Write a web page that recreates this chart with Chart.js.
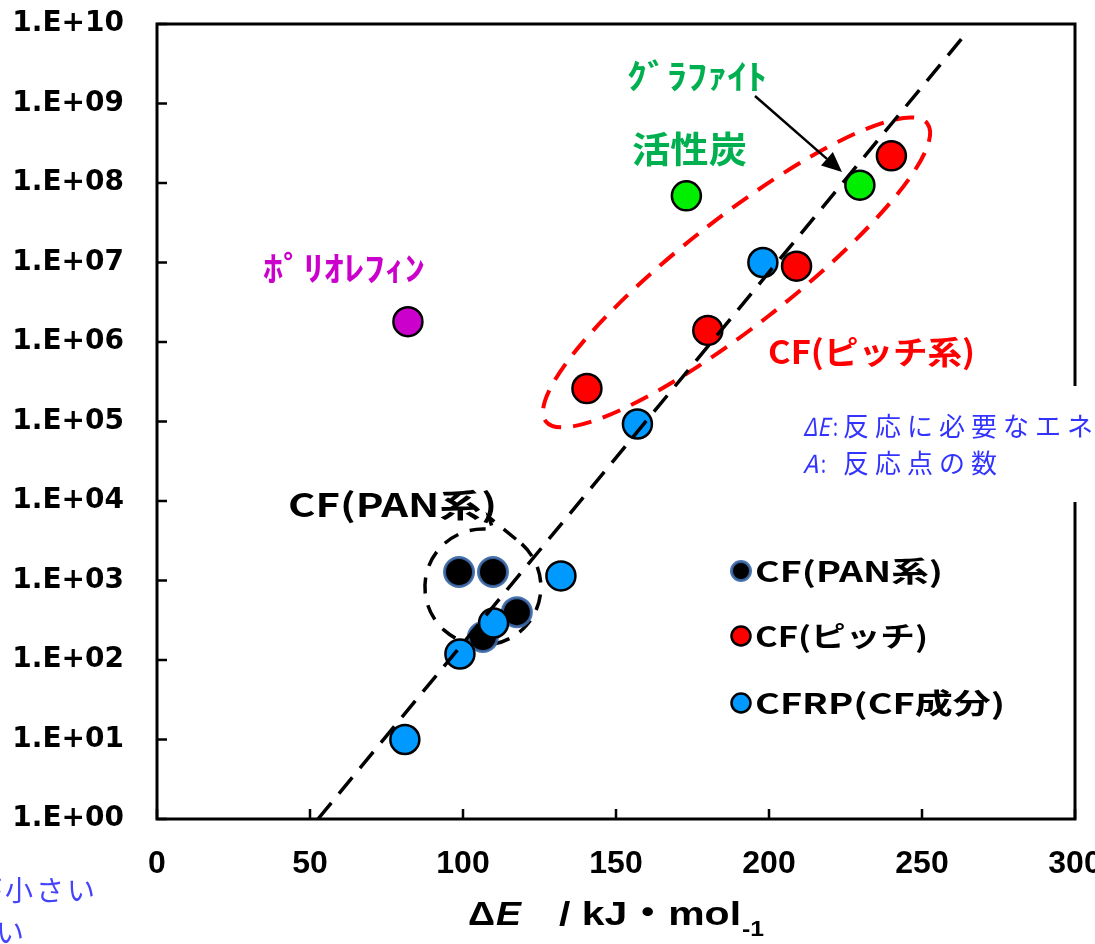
<!DOCTYPE html>
<html><head><meta charset="utf-8">
<script src="https://cdn.jsdelivr.net/npm/chart.js@4/dist/chart.umd.min.js"></script>
<style>html,body{margin:0;padding:0;background:#fff;overflow:hidden}#wrap{width:1095px;height:944px}</style>
</head><body><div id="wrap"><canvas id="c" width="1095" height="944"></canvas></div>
<script>
// ---- data ----
const xTicks = [0, 50, 100, 150, 200, 250, 300];
const yTicks = [1, 1e1, 1e2, 1e3, 1e4, 1e5, 1e6, 1e7, 1e8, 1e9, 1e10];
const yTickLabels = ['1.E+00','1.E+01','1.E+02','1.E+03','1.E+04','1.E+05','1.E+06','1.E+07','1.E+08','1.E+09','1.E+10'];
const seriesNames = ['CF(PAN系)', 'CF(ピッチ)', 'CFRP(CF成分)'];
const panX = [98.7, 109.8, 117.6, 106.5];
const panY = [1280, 1280, 400, 195];
const pitchX = [140.5, 180, 209, 240];
const pitchY = [2.6e5, 1.4e6, 9.0e6, 2.2e8];
const cfrpX = [81, 99, 110, 132, 157, 198];
const cfrpY = [10, 119, 292, 1140, 9.3e4, 1.0e7];
const carbonX = [173, 229.7];      // 活性炭, グラファイト
const carbonY = [6.9e7, 9.4e7];
const polyX = [82];                // ポリオレフィン
const polyY = [1.8e6];
const trendX = [52.6, 264];
const trendY = [1, 7.3e9];

const pts = (xs, ys) => xs.map((x, i) => ({x, y: ys[i]}));

const C_BLUE = '#0099ff', C_RED = '#ff0000', C_GREEN = '#00ee00', C_MAG = '#cc00cc';
const PAN_BORDER = 'rgba(60,105,170,0.9)';
const JP = '"Noto Sans CJK JP", sans-serif';

function drawFit(ctx, text, x, y, w, font, color, align) {
  ctx.save();
  ctx.font = font; ctx.fillStyle = color; ctx.textBaseline = 'middle'; ctx.textAlign = 'left';
  ctx.letterSpacing = '0px';
  const m = ctx.measureText(text).width;
  const sx = w / m;
  let x0 = x;
  if (align === 'right') x0 = x - w;
  ctx.translate(x0, y); ctx.scale(sx, 1);
  ctx.fillText(text, 0, 0);
  ctx.restore();
}

function dot(ctx, x, y, r, fill, stroke, lw) {
  ctx.beginPath(); ctx.arc(x, y, r, 0, Math.PI * 2);
  ctx.fillStyle = fill; ctx.fill();
  ctx.lineWidth = lw; ctx.strokeStyle = stroke; ctx.stroke();
}

const deco = {
  id: 'deco',
  beforeDatasetsDraw(chart) {
    const ctx = chart.ctx, xs = chart.scales.x, ys = chart.scales.y;
    ctx.save();
    // red dashed ellipse around pitch CF
    const ex = xs.getPixelForValue(189.4), ey = ys.getPixelForValue(7.5e6);
    ctx.beginPath();
    ctx.ellipse(ex, ey, 242, 54, -38 * Math.PI / 180, 0, Math.PI * 2);
    ctx.setLineDash([19, 12]); ctx.lineWidth = 4; ctx.strokeStyle = C_RED; ctx.stroke();
    // black dashed callout circle around PAN CF
    const cx = xs.getPixelForValue(106.5), cy = ys.getPixelForValue(828), r = 58;
    ctx.beginPath();
    const a1 = -80 * Math.PI / 180, a2 = -48 * Math.PI / 180;
    ctx.arc(cx, cy, r, a2, a1 + 2 * Math.PI);
    ctx.lineTo(cx + 6, cy - r - 12);
    ctx.lineTo(cx + r * Math.cos(a2), cy + r * Math.sin(a2));
    ctx.setLineDash([16, 12]); ctx.lineWidth = 3.5; ctx.strokeStyle = '#000'; ctx.stroke();
    ctx.restore();
  },
  afterDraw(chart) {
    const ctx = chart.ctx, xs = chart.scales.x, ys = chart.scales.y, a = chart.chartArea;
    ctx.save();
    ctx.setLineDash([]);
    // frame
    ctx.lineWidth = 3; ctx.strokeStyle = '#000';
    ctx.strokeRect(a.left, a.top, a.right - a.left, a.bottom - a.top);
    // inward ticks
    ctx.lineWidth = 2.5;
    ctx.beginPath();
    yTicks.forEach(v => { const p = ys.getPixelForValue(v); ctx.moveTo(a.left, p); ctx.lineTo(a.left + 10, p); });
    xTicks.forEach(v => { const p = xs.getPixelForValue(v); ctx.moveTo(p, a.bottom); ctx.lineTo(p, a.bottom - 10); });
    ctx.stroke();

    // legend
    const lx = 741, lys = [571, 636, 703];
    dot(ctx, lx, lys[0], 9.5, '#000', PAN_BORDER, 3);
    dot(ctx, lx, lys[1], 9.5, C_RED, '#000', 2.5);
    dot(ctx, lx, lys[2], 9.5, C_BLUE, '#000', 2.5);
    drawFit(ctx, seriesNames[0], 755, lys[0], 188, 'bold 28px ' + JP, '#000');
    drawFit(ctx, seriesNames[1], 755, lys[1], 173, 'bold 28px ' + JP, '#000');
    drawFit(ctx, seriesNames[2], 755, lys[2], 250, 'bold 28px ' + JP, '#000');

    // annotations
    drawFit(ctx, 'ｸﾞﾗﾌｧｲﾄ', 627, 76, 140, 'bold 34px ' + JP, '#00b050');
    drawFit(ctx, '活性炭', 632, 149, 115, 'bold 36px ' + JP, '#00b050');
    drawFit(ctx, 'ﾎﾟﾘｵﾚﾌｨﾝ', 263, 268, 162, 'bold 34px ' + JP, C_MAG);
    drawFit(ctx, 'CF(ピッチ系)', 768, 352, 207, 'bold 32px ' + JP, C_RED);
    drawFit(ctx, 'CF(PAN系)', 288, 505, 209, 'bold 32px ' + JP, '#000');

    // arrow to graphite
    const x1 = 755, y1 = 96, x2 = 842, y2 = 172;
    const ang = Math.atan2(y2 - y1, x2 - x1), hl = 20, hw = 9;
    const bx = x2 - hl * Math.cos(ang), by = y2 - hl * Math.sin(ang);
    ctx.beginPath(); ctx.moveTo(x1, y1); ctx.lineTo(bx, by);
    ctx.lineWidth = 2.5; ctx.strokeStyle = '#000'; ctx.stroke();
    ctx.beginPath(); ctx.moveTo(x2, y2);
    ctx.lineTo(bx + hw * Math.sin(ang), by - hw * Math.cos(ang));
    ctx.lineTo(bx - hw * Math.sin(ang), by + hw * Math.cos(ang));
    ctx.closePath(); ctx.fillStyle = '#000'; ctx.fill();

    // white note box with blue text
    ctx.fillStyle = '#fff'; ctx.fillRect(790, 386, 310, 116);
    const blue = '#3333ff';
    const l1 = 426, l2 = 463;
    drawFit(ctx, 'ΔE', 803, l1, 27, 'italic 25px ' + JP, blue);
    drawFit(ctx, ':', 833, l1, 5, '25px ' + JP, blue);
    drawFit(ctx, 'A', 803, l2, 15, 'italic 25px ' + JP, blue);
    drawFit(ctx, ':', 821, l2, 5, '25px ' + JP, blue);
    ctx.fillStyle = blue; ctx.textBaseline = 'middle'; ctx.textAlign = 'left';
    ctx.font = '26px ' + JP;
    ctx.letterSpacing = '6px';
    ctx.fillText('反応に必要なエネルギー', 843, l1);
    ctx.fillText('反応点の数', 843, l2);

    // clipped note at bottom-left
    ctx.font = '28px ' + JP; ctx.fillStyle = '#4444ff'; ctx.textAlign = 'left';
    ctx.letterSpacing = '3px';
    ctx.fillText('が小さい', -26, 890);
    ctx.fillText('が大きい', -97, 932);
    ctx.letterSpacing = '0px';

    // x axis title
    const ty = 916;
    ctx.textAlign = 'left'; ctx.fillStyle = '#000';
    drawFit(ctx, 'Δ', 468, ty, 27, 'bold 34px "Liberation Sans", Arial, sans-serif', '#000');
    drawFit(ctx, 'E', 496, ty, 25, 'bold italic 34px "Liberation Sans", Arial, sans-serif', '#000');
    drawFit(ctx, '/ kJ・mol', 559, ty, 182, 'bold 34px "Liberation Sans", ' + JP, '#000');
    drawFit(ctx, '-1', 742, ty + 14, 22, 'bold 22px "Liberation Sans", Arial, sans-serif', '#000');
    ctx.restore();
  }
};

const ptStyle = (fill, stroke, lw, order) => ({
  type: 'scatter', backgroundColor: fill, borderColor: stroke, borderWidth: lw,
  pointRadius: 14.5, pointHoverRadius: 14.5, order
});

new Chart(document.getElementById('c'), {
  data: {
    datasets: [
      {type: 'line', label: 'trend', data: pts(trendX, trendY), borderColor: '#000', borderWidth: 3.5,
       borderDash: [21, 12], pointRadius: 0, fill: false, order: 0},
      Object.assign({label: seriesNames[2], data: pts(cfrpX, cfrpY)}, ptStyle(C_BLUE, '#000', 2.5, 1)),
      Object.assign({label: seriesNames[1], data: pts(pitchX, pitchY)}, ptStyle(C_RED, '#000', 2.5, 2)),
      Object.assign({label: 'carbon', data: pts(carbonX, carbonY)}, ptStyle(C_GREEN, '#000', 2.5, 3)),
      Object.assign({label: 'polyolefin', data: pts(polyX, polyY)}, ptStyle(C_MAG, '#000', 2.5, 4)),
      Object.assign({label: seriesNames[0], data: pts(panX, panY)}, ptStyle('#000', PAN_BORDER, 3, 5))
    ]
  },
  options: {
    responsive: false, animation: false, devicePixelRatio: 1,
    layout: {padding: {top: 24, right: 20, left: 0, bottom: 0}},
    plugins: {legend: {display: false}, tooltip: {enabled: false}},
    scales: {
      x: {
        type: 'linear', min: 0, max: 300,
        afterBuildTicks: s => { s.ticks = xTicks.map(v => ({value: v})); },
        ticks: {font: {family: '"Liberation Sans Narrow", "Liberation Sans", Arial', weight: 'bold', size: 32}, color: '#000',
                padding: 18, maxRotation: 0, autoSkip: false, callback: v => String(v)},
        grid: {display: false}, border: {display: false},
        afterFit: s => { s.height = 125; s.paddingLeft = 0; s.paddingRight = 0; }
      },
      y: {
        type: 'logarithmic', min: 1, max: 1e10,
        afterBuildTicks: s => { s.ticks = yTicks.map(v => ({value: v})); },
        ticks: {font: {family: '"DejaVu Sans"', weight: 'bold', size: 28}, color: '#000',
                padding: 25, autoSkip: false, callback: (v, i) => yTickLabels[i]},
        grid: {display: false}, border: {display: false},
        afterFit: s => { s.width = 157; s.paddingTop = 0; s.paddingBottom = 0; }
      }
    }
  },
  plugins: [deco]
});
</script></body></html>
